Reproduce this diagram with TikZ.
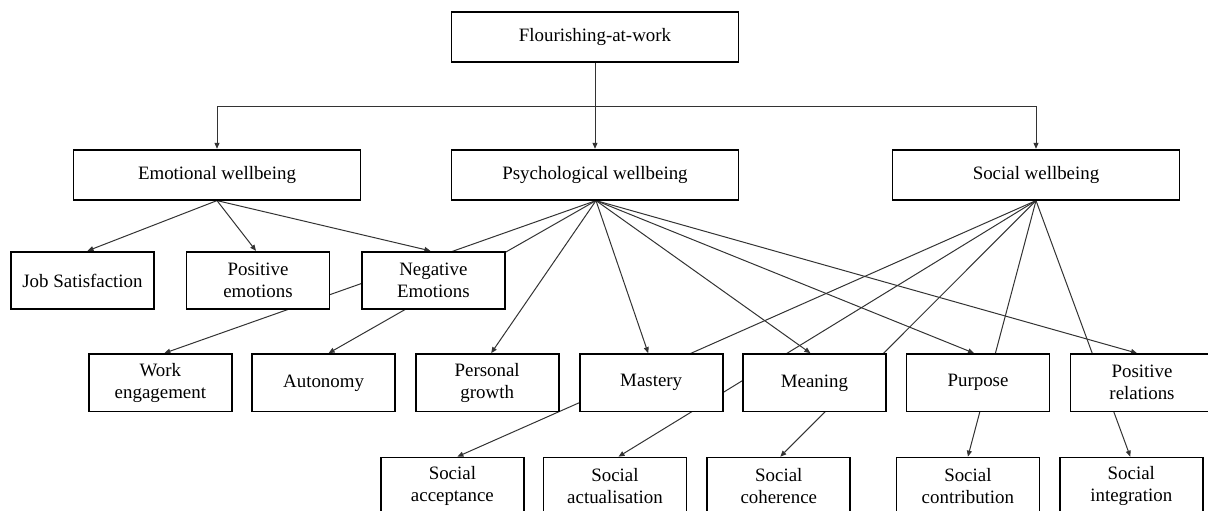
\documentclass[tikz,border=0pt]{standalone}
\usepackage{fontspec}
\setmainfont{Liberation Serif}
\usetikzlibrary{arrows.meta,backgrounds}
\begin{document}
\begin{tikzpicture}[x=1pt,y=-1pt,
  box/.style={draw=black,line width=1.8pt,fill=white,inner sep=0pt,align=center,
    font=\fontsize{18.9}{22}\selectfont},
  wide/.style={box,minimum width=287pt,minimum height=50pt},
  cell/.style={box,minimum width=143pt,minimum height=57.5pt},
  link/.style={line width=1pt,draw=black!80},
  arr/.style={link,-{Triangle[length=6pt,width=5pt]}}]
\useasboundingbox (0,0) rectangle (1208,511);
\clip (0,0) rectangle (1208,511);

% top and first level
\node[wide] (flour)  at (595,37)    {Flourishing-at-work};
\node[wide] (emo)    at (217,174.7) {Emotional wellbeing};
\node[wide] (psych)  at (595,174.7) {Psychological wellbeing};
\node[wide] (soc)    at (1036,174.7) {Social wellbeing};

% emotional wellbeing dimensions
\node[cell] (job) at (82.5,280.5)  {Job Satisfaction};
\node[cell] (pos) at (258,280.5)   {Positive\\emotions};
\node[cell] (neg) at (433.4,280.5) {Negative\\Emotions};

% psychological wellbeing dimensions
\node[cell] (work) at (160.4,382.8) {Work\\engagement};
\node[cell] (auto) at (323.6,382.8) {Autonomy};
\node[cell] (pers) at (487.2,382.8) {Personal\\growth};
\node[cell] (mast) at (651.2,382.8) {Mastery};
\node[cell] (mean) at (814.4,382.8) {Meaning};
\node[cell] (purp) at (978,382.8)   {Purpose};
\node[cell] (prel) at (1142,382.8)  {Positive\\relations};

% social wellbeing dimensions
\node[cell] (sacc) at (452.4,486.3)  {Social\\acceptance};
\node[cell] (sact) at (615,486.3)    {Social\\actualisation};
\node[cell] (scoh) at (778.8,486.3)  {Social\\coherence};
\node[cell] (scon) at (967.9,486.3)  {Social\\contribution};
\node[cell] (sint) at (1131.3,486.3) {Social\\integration};

\begin{scope}[on background layer]
  % branching from the top box
  \coordinate (split) at (595,106);
  \draw[arr] (flour) -- (psych);
  \draw[arr] (split) -| (emo.north);
  \draw[arr] (split) -| (soc.north);

  % emotional wellbeing
  \draw[arr] (emo.south) -- ([xshift=5pt]job.north);
  \draw[arr] (emo.south) -- ([xshift=-2pt]pos.north);
  \draw[arr] (emo.south) -- ([xshift=-3pt]neg.north);

  % psychological wellbeing
  \draw[arr] ([xshift=1pt]psych.south) -- ([xshift=4pt]work.north);
  \draw[arr] ([xshift=1pt]psych.south) -- ([xshift=5pt]auto.north);
  \draw[arr] ([xshift=1pt]psych.south) -- ([xshift=4pt]pers.north);
  \draw[arr] ([xshift=1pt]psych.south) -- ([xshift=-3pt]mast.north);
  \draw[arr] ([xshift=1pt]psych.south) -- ([xshift=-4pt]mean.north);
  \draw[arr] ([xshift=1pt]psych.south) -- ([xshift=-4pt]purp.north);
  \draw[arr] ([xshift=1pt]psych.south) -- ([xshift=-5pt]prel.north);

  % social wellbeing
  \draw[arr] (soc.south) -- ([xshift=5pt]sacc.north);
  \draw[arr] (soc.south) -- ([xshift=3.5pt]sact.north);
  \draw[arr] (soc.south) -- ([xshift=1.5pt]scoh.north);
  \draw[arr] (soc.south) -- (scon.north);
  \draw[arr] (soc.south) -- ([xshift=-1pt]sint.north);
\end{scope}
\end{tikzpicture}
\end{document}
